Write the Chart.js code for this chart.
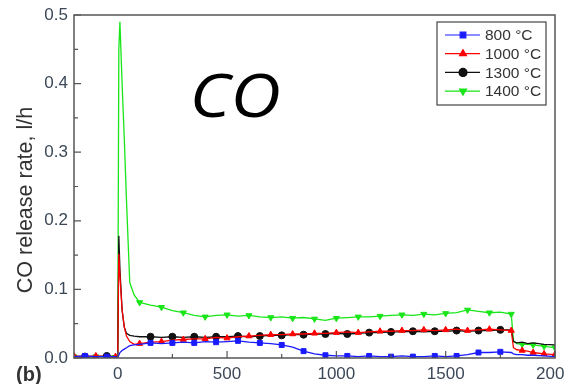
<!DOCTYPE html>
<html>
<head>
<meta charset="utf-8">
<script src="https://cdn.jsdelivr.net/npm/chart.js@4.4.1/dist/chart.umd.min.js"></script>
<style>
  html, body { margin: 0; padding: 0; background: #fff; }
  #wrap { width: 565px; height: 384px; }
</style>
</head>
<body>
<div id="wrap"><canvas id="chart1" width="565" height="384"></canvas></div>
<script>
// time axis (s) shared by all series
var times = [-200, -150, -100, -50, -10, 0, 5, 10, 20, 30, 40, 55, 75,
    100, 150, 200, 250, 300, 350, 400, 450, 500, 550, 600, 650, 700, 750, 800, 850, 900, 950,
    1000, 1050, 1100, 1150, 1200, 1250, 1300, 1350, 1400, 1450, 1500, 1550, 1600, 1650, 1700, 1750, 1800,
    1810, 1825, 1850, 1875, 1900, 1950, 2000];

var co800 = [0.002, 0.003, 0.002, 0.002, 0.002, 0.001, 0.004, 0.008, 0.011, 0.013, 0.015, 0.018, 0.019,
    0.020, 0.022, 0.021, 0.022, 0.023, 0.022, 0.024, 0.023, 0.024, 0.025, 0.023, 0.022, 0.021, 0.019, 0.016, 0.010, 0.006, 0.004,
    0.003, 0.003, 0.002, 0.003, 0.002, 0.002, 0.003, 0.002, 0.002, 0.003, 0.002, 0.003, 0.005, 0.008, 0.008, 0.009, 0.008,
    0.006, 0.005, 0.005, 0.004, 0.004, 0.003, 0.002];

var co1000 = [0.003, 0.002, 0.003, 0.002, 0.002, 0.002, 0.152, 0.120, 0.070, 0.045, 0.032, 0.024, 0.020,
    0.021, 0.023, 0.024, 0.026, 0.027, 0.028, 0.028, 0.030, 0.029, 0.031, 0.032, 0.033, 0.034, 0.034, 0.035, 0.035, 0.036, 0.036,
    0.037, 0.038, 0.037, 0.038, 0.039, 0.039, 0.040, 0.040, 0.041, 0.040, 0.041, 0.042, 0.040, 0.041, 0.042, 0.041, 0.040,
    0.015, 0.012, 0.011, 0.010, 0.008, 0.006, 0.005];

var co1300 = [0.002, 0.002, 0.002, 0.003, 0.002, 0.002, 0.178, 0.130, 0.070, 0.045, 0.036, 0.033, 0.032,
    0.031, 0.031, 0.030, 0.031, 0.030, 0.031, 0.030, 0.031, 0.031, 0.032, 0.031, 0.032, 0.033, 0.033, 0.034, 0.034, 0.035, 0.035,
    0.036, 0.035, 0.036, 0.037, 0.037, 0.038, 0.038, 0.039, 0.038, 0.039, 0.039, 0.040, 0.039, 0.040, 0.040, 0.041, 0.041,
    0.024, 0.022, 0.023, 0.021, 0.022, 0.020, 0.019];

var co1400 = [0.002, 0.001, 0.002, 0.002, 0.001, 0.001, 0.450, 0.490, 0.400, 0.320, 0.230, 0.110, 0.092,
    0.081, 0.077, 0.074, 0.069, 0.066, 0.062, 0.060, 0.062, 0.063, 0.061, 0.062, 0.060, 0.059, 0.060, 0.058, 0.059, 0.057, 0.055,
    0.058, 0.059, 0.060, 0.060, 0.061, 0.062, 0.063, 0.062, 0.064, 0.063, 0.065, 0.066, 0.070, 0.068, 0.066, 0.067, 0.064,
    0.025, 0.021, 0.020, 0.020, 0.019, 0.017, 0.015];

var seriesLabels = ["800 \u00b0C", "1000 \u00b0C", "1300 \u00b0C", "1400 \u00b0C"];
var xMajorTicks = [0, 500, 1000, 1500, 2000];
var xMinorTicks = [250, 750, 1250, 1750];
var yMajorTicks = [0, 0.1, 0.2, 0.3, 0.4, 0.5];
var yMinorTicks = [0.05, 0.15, 0.25, 0.35, 0.45];

var axisColor = "#555";
var arial = "'Liberation Sans', Arial, sans-serif";

function toPoints(values) {
    return values.map(function (v, i) { return { x: times[i], y: v }; });
}

// show a marker on every other point of the regular grid, offset per series
function markerRadius(offset, size) {
    return function (ctx) {
        var t = times[ctx.dataIndex];
        if (t < 0) return (ctx.dataIndex % 2 === offset % 2) ? size : 0;
        if (t >= 100 && t <= 1800 && t % 50 === 0) return ((t / 50) % 2 === offset % 2) ? size : 0;
        if (t > 1800 && t % 50 === 0 && offset === 0) return size;
        return 0;
    };
}

function makeSet(label, values, colour, style, offset, extra) {
    var ds = {
        label: label,
        data: toPoints(values),
        borderColor: colour,
        backgroundColor: colour,
        pointBackgroundColor: colour,
        pointBorderColor: colour,
        borderWidth: 1.3,
        pointStyle: style,
        pointRadius: markerRadius(offset, 3.5),
        pointBorderWidth: 1,
        tension: 0,
    };
    for (var k in extra) ds[k] = extra[k];
    return ds;
}

// inward ticks, frame, legend and free text
var decorations = {
    id: "decorations",
    afterDraw: function (chart) {
        var c = chart.ctx;
        var a = chart.chartArea;
        var xs = chart.scales.x, ys = chart.scales.y;
        c.save();
        // frame
        c.strokeStyle = axisColor;
        c.lineWidth = 1.5;
        c.strokeRect(a.left, a.top, a.right - a.left, a.bottom - a.top);
        // ticks
        c.lineWidth = 1.2;
        c.beginPath();
        xMajorTicks.forEach(function (v) { var p = xs.getPixelForValue(v); c.moveTo(p, a.bottom); c.lineTo(p, a.bottom - 7); });
        xMinorTicks.forEach(function (v) { var p = xs.getPixelForValue(v); c.moveTo(p, a.bottom); c.lineTo(p, a.bottom - 4); });
        yMajorTicks.forEach(function (v) { var p = ys.getPixelForValue(v); c.moveTo(a.left, p); c.lineTo(a.left + 7, p); });
        yMinorTicks.forEach(function (v) { var p = ys.getPixelForValue(v); c.moveTo(a.left, p); c.lineTo(a.left + 4, p); });
        c.stroke();

        // legend
        var lx = 437, ly = 22, lw = 109, lh = 83;
        c.fillStyle = "#fff";
        c.fillRect(lx, ly, lw, lh);
        c.strokeStyle = "#444";
        c.lineWidth = 1.2;
        c.strokeRect(lx, ly, lw, lh);
        chart.data.datasets.forEach(function (ds, i) {
            var yy = 35 + i * 18.7;
            c.strokeStyle = ds.borderColor;
            c.lineWidth = 1.2;
            c.beginPath();
            c.moveTo(445, yy);
            c.lineTo(480, yy);
            c.stroke();
            Chart.helpers.drawPoint(c, {
                pointStyle: ds.pointStyle, radius: 4, borderWidth: 1,
                rotation: ds.rotation || 0
            }, 463, yy);
            c.fillStyle = ds.borderColor;
            c.fill();
            c.fillStyle = "#333";
            c.font = "15.5px " + arial;
            c.textAlign = "left";
            c.textBaseline = "middle";
            c.fillText(ds.label, 485, yy + 1);
        });

        // big label, a bit wider than the plain font
        c.save();
        c.fillStyle = "#000";
        c.font = "italic 60px 'Open Sans', 'DejaVu Sans', sans-serif";
        c.textAlign = "left";
        c.textBaseline = "alphabetic";
        c.translate(189.5, 117);
        c.scale(1.16, 1);
        c.fillText("CO", 0, 0);
        c.restore();

        // panel label
        c.fillStyle = "#333";
        c.font = "bold 20px " + arial;
        c.textAlign = "left";
        c.textBaseline = "alphabetic";
        c.fillText("(b)", 16, 381);

        // y title
        c.translate(26, 200);
        c.rotate(-Math.PI / 2);
        c.textAlign = "center";
        c.textBaseline = "middle";
        c.font = "21.5px " + arial;
        c.fillStyle = "#333";
        c.fillText("CO release rate, l/h", 0, 0);
        c.restore();
    }
};

var chart = new Chart(document.getElementById("chart1"), {
    type: "line",
    data: {
        datasets: [
            makeSet(seriesLabels[0], co800, "#1a1aff", "rect", 1, {}),
            makeSet(seriesLabels[1], co1000, "#ff0000", "triangle", 0, {}),
            makeSet(seriesLabels[2], co1300, "#111111", "circle", 1, {}),
            makeSet(seriesLabels[3], co1400, "#19e619", "triangle", 0, { rotation: 180, pointRotation: 180 })
        ]
    },
    options: {
        responsive: false,
        animation: false,
        layout: { padding: { top: 15, right: 10, left: 0, bottom: 0 } },
        plugins: { legend: { display: false }, tooltip: { enabled: false } },
        scales: {
            x: {
                type: "linear",
                min: -200,
                max: 2000,
                grid: { display: false, drawTicks: false },
                border: { display: false },
                afterBuildTicks: function (scale) {
                    scale.ticks = xMajorTicks.map(function (v) { return { value: v }; });
                },
                afterFit: function (scale) {
                    scale.height = 26;
                    scale.paddingLeft = 0;
                    scale.paddingRight = 0;
                },
                ticks: {
                    padding: 6,
                    color: "#3c4858",
                    font: { family: arial, size: 17 },
                    maxRotation: 0,
                    autoSkip: false,
                    callback: function (v) { return String(v); }
                }
            },
            y: {
                min: 0,
                max: 0.5,
                grid: { display: false, drawTicks: false },
                border: { display: false },
                afterBuildTicks: function (scale) {
                    scale.ticks = yMajorTicks.map(function (v) { return { value: v }; });
                },
                afterFit: function (scale) {
                    scale.width = 74;
                    scale.paddingTop = 0;
                    scale.paddingBottom = 0;
                },
                ticks: {
                    padding: 6,
                    color: "#3c4858",
                    font: { family: arial, size: 17 },
                    callback: function (v) { return Number(v).toFixed(1); }
                }
            }
        }
    },
    plugins: [decorations]
});
</script>
</body>
</html>
